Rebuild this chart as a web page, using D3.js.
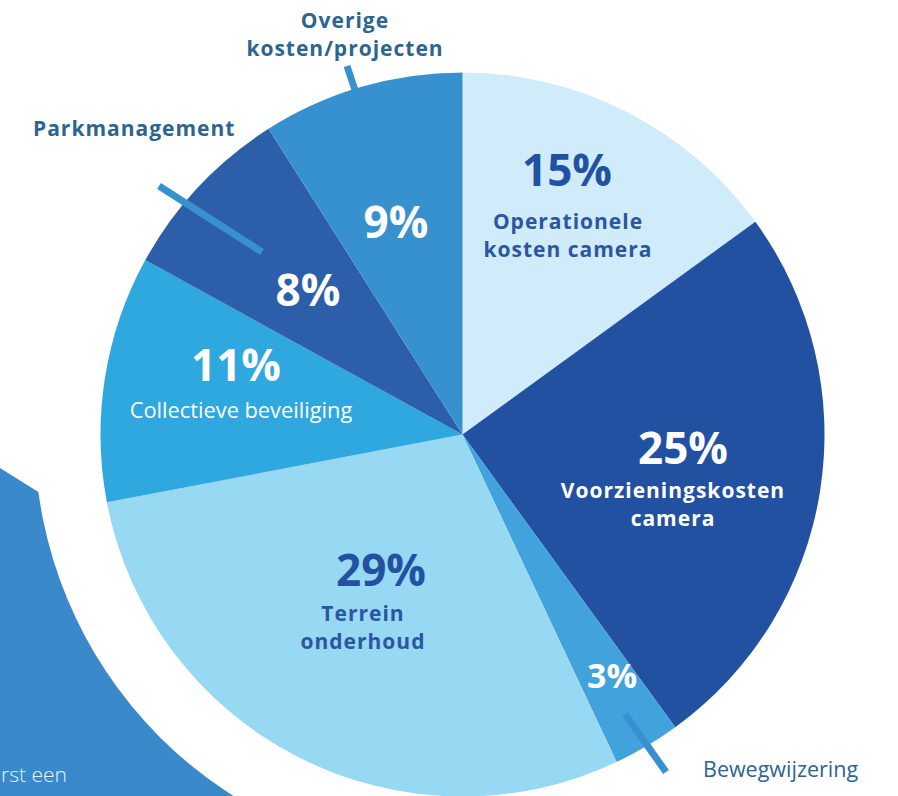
<!DOCTYPE html>
<html>
<head>
<meta charset="utf-8">
<script src="https://cdn.jsdelivr.net/npm/d3@7"></script>
<style>
  html, body { margin: 0; padding: 0; background: #ffffff; overflow: hidden; }
  svg { display: block; }
</style>
</head>
<body>
<svg id="chart" width="898" height="796"></svg>
<script>
// ---- data ----
const categories = [
  "Operationele kosten camera",
  "Voorzieningskosten camera",
  "Bewegwijzering",
  "Terrein onderhoud",
  "Collectieve beveiliging",
  "Parkmanagement",
  "Overige kosten/projecten"
];
const values = [15, 25, 3, 29, 11, 8, 9];
const pctLabels = ["15%", "25%", "3%", "29%", "11%", "8%", "9%"];
const nameLines = [
  ["Operationele", "kosten camera"],
  ["Voorzieningskosten", "camera"],
  ["Bewegwijzering"],
  ["Terrein", "onderhoud"],
  ["Collectieve beveiliging"],
  ["Parkmanagement"],
  ["Overige", "kosten/projecten"]
];

// ---- styles / layout ----
const sliceColors = ["#d0ebf9", "#2251a2", "#42a2db", "#97d8f3", "#2fa7df", "#2d5ea9", "#3891cf"];
const cx = 462.5, cy = 434.5, R = 362;
const darkText = "#2251a2";
const nameDark = "#2c56a3";
const outerText = "#2b6592";
const leaderColor = "#3891cf";
const boldFont = "'Open Sans', sans-serif";
const regFont = "'Open Sans', sans-serif";

const pctLayout = [
  {x: 567, y: 186, size: 44, fill: darkText},
  {x: 683, y: 464, size: 44, fill: "#fff"},
  {x: 612, y: 688, size: 34, fill: "#fff"},
  {x: 381, y: 586, size: 44, fill: darkText},
  {x: 236, y: 381, size: 44, fill: "#fff"},
  {x: 308, y: 306, size: 44, fill: "#fff"},
  {x: 396, y: 238, size: 44, fill: "#fff"}
];
const nameLayout = [
  {x: 568, y: 229, anchor: "middle", fill: nameDark, weight: 700, size: 21, ls: 1},
  {x: 673, y: 498, anchor: "middle", fill: "#fff", weight: 700, size: 21, ls: 1},
  {x: 703, y: 777, anchor: "start", fill: outerText, weight: 400, size: 21.5, ls: 0},
  {x: 363, y: 621, anchor: "middle", fill: nameDark, weight: 700, size: 21, ls: 1},
  {x: 241, y: 418, anchor: "middle", fill: "#fff", weight: 400, size: 21.8, ls: 0},
  {x: 33, y: 136, anchor: "start", fill: outerText, weight: 700, size: 21, ls: 1},
  {x: 345, y: 28, anchor: "middle", fill: outerText, weight: 700, size: 21, ls: 1}
];
// leader line endpoints (layout)
const leaders = [
  {x1: 625, y1: 714, x2: 666, y2: 772},
  {x1: 159, y1: 186, x2: 262, y2: 252},
  {x1: 347, y1: 66, x2: 355, y2: 90}
];

const svg = d3.select("#chart");

// background decorative shape (bottom-left)
svg.append("path")
  .attr("d", "M0,468 L40,493 L420,730 L420,796 L0,796 Z")
  .attr("fill", "#3a8acb");
svg.append("circle")
  .attr("cx", cx).attr("cy", cy).attr("r", 428)
  .attr("fill", "#ffffff");
svg.append("text")
  .attr("x", 1).attr("y", 782)
  .attr("text-anchor", "start")
  .attr("font-family", regFont)
  .attr("font-weight", 300)
  .attr("font-size", 21)
  .attr("fill", "#e8f3fb")
  .text("rst een");

const pie = d3.pie().sort(null).value(d => d)(values);
const arc = d3.arc().innerRadius(0).outerRadius(R);

const g = svg.append("g").attr("transform", `translate(${cx},${cy})`);
g.selectAll("path.slice")
  .data(pie)
  .join("path")
  .attr("class", "slice")
  .attr("d", arc)
  .attr("fill", (d, i) => sliceColors[i]);

// leader lines
svg.selectAll("line.leader")
  .data(leaders)
  .join("line")
  .attr("class", "leader")
  .attr("x1", d => d.x1).attr("y1", d => d.y1)
  .attr("x2", d => d.x2).attr("y2", d => d.y2)
  .attr("stroke", leaderColor)
  .attr("stroke-width", 7);

// percentage labels
svg.selectAll("text.pct")
  .data(pctLabels)
  .join("text")
  .attr("class", "pct")
  .attr("x", (d, i) => pctLayout[i].x)
  .attr("y", (d, i) => pctLayout[i].y)
  .attr("text-anchor", "middle")
  .attr("font-family", boldFont)
  .attr("font-weight", 700)
  .attr("font-size", (d, i) => pctLayout[i].size)
  .attr("fill", (d, i) => pctLayout[i].fill)
  .text(d => d);

// name labels
nameLines.forEach((lines, i) => {
  const L = nameLayout[i];
  const t = svg.append("text")
    .attr("text-anchor", L.anchor)
    .attr("font-family", L.weight === 700 ? boldFont : regFont)
    .attr("font-weight", L.weight)
    .attr("font-size", L.size)
    .attr("letter-spacing", L.ls)
    .attr("fill", L.fill);
  lines.forEach((s, j) => {
    t.append("tspan").attr("x", L.x).attr("y", L.y + j * 28).text(s);
  });
});
</script>
</body>
</html>
